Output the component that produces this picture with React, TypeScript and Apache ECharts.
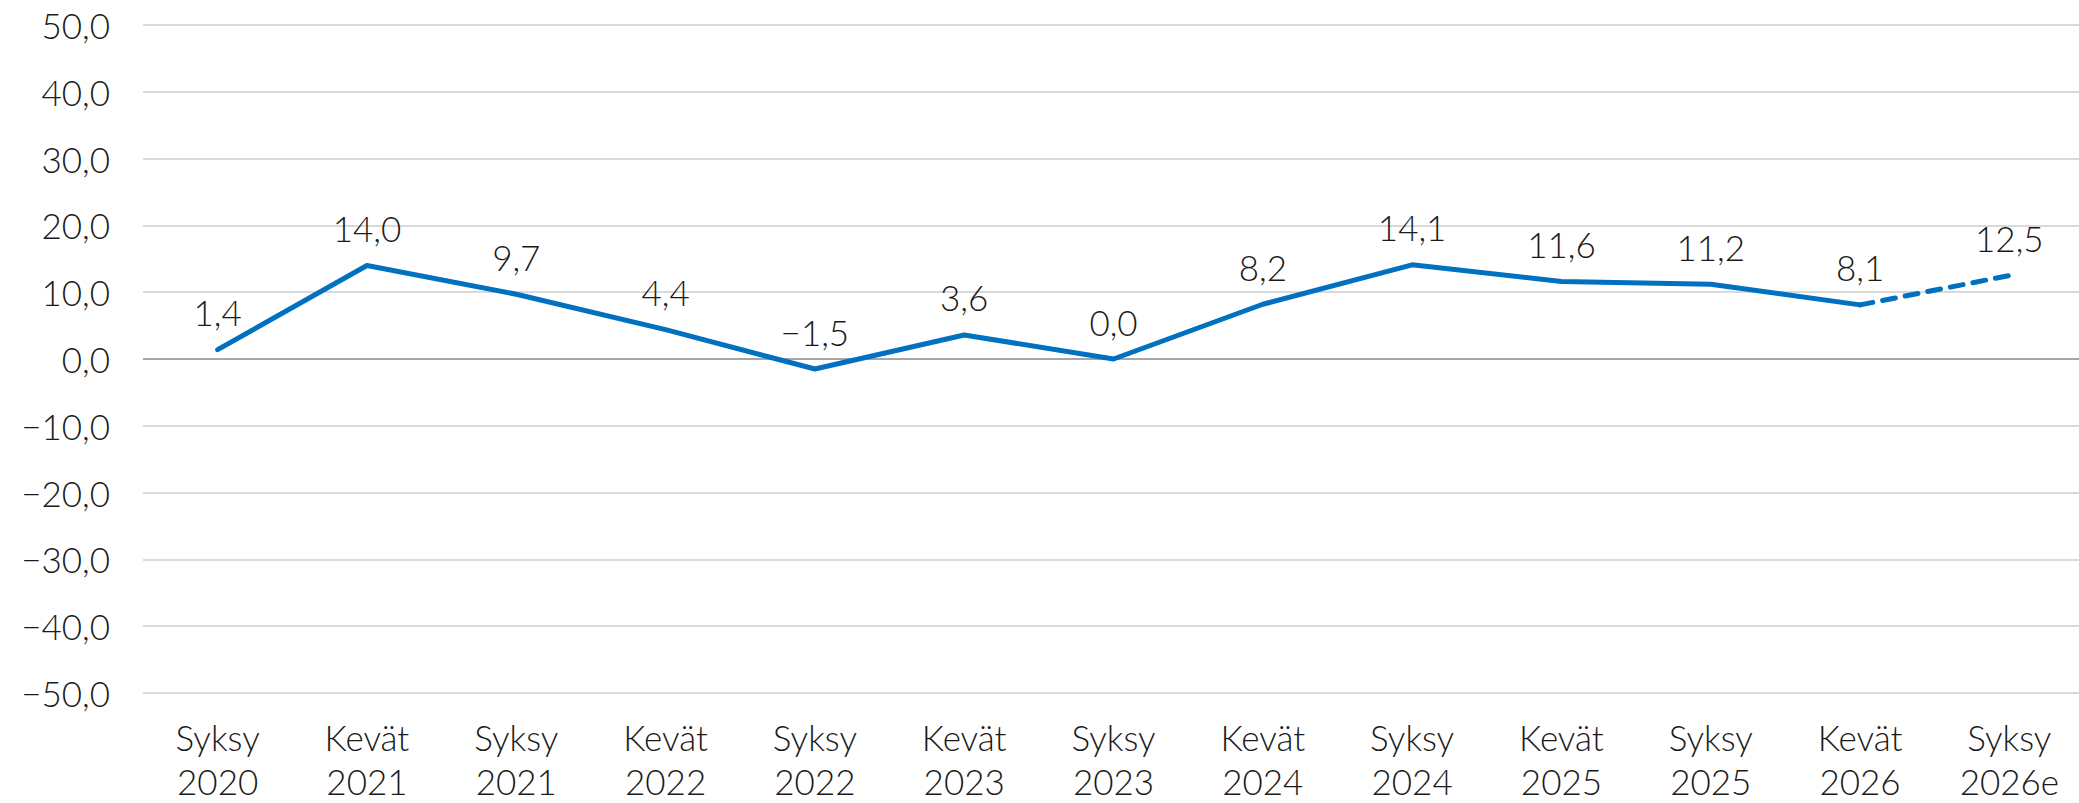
import React, { useEffect, useRef } from "react";
import * as echarts from "echarts";

const categories = [
  "Syksy\n2020", "Kevät\n2021", "Syksy\n2021", "Kevät\n2022", "Syksy\n2022",
  "Kevät\n2023", "Syksy\n2023", "Kevät\n2024", "Syksy\n2024", "Kevät\n2025",
  "Syksy\n2025", "Kevät\n2026", "Syksy\n2026e",
];
const actualValues: (number | null)[] = [1.4, 14.0, 9.7, 4.4, -1.5, 3.6, 0.0, 8.2, 14.1, 11.6, 11.2, 8.1, null];
const forecastValues: (number | null)[] = [null, null, null, null, null, null, null, null, null, null, null, 8.1, 12.5];
const yMin = -50;
const yMax = 50;
const yInterval = 10;

const fmt = (v: number) => {
  const s = Math.abs(v).toFixed(1).replace(".", ",");
  return v < 0 ? "\u2212" + s : s;
};

const FONT = "Lato";
const WEIGHT = 300;
const FS = 35;

export default function App() {
  const ref = useRef<HTMLDivElement>(null);
  useEffect(() => {
    if (!ref.current) return;
    const chart = echarts.init(ref.current, null, { renderer: "svg" });
    const labelStyle = {
      show: true,
      position: "top",
      distance: 19,
      color: "#1a1a1a",
      fontSize: FS,
      fontFamily: FONT,
      fontWeight: WEIGHT,
    };
    chart.setOption({
      animation: false,
      textStyle: { fontFamily: FONT, fontWeight: WEIGHT },
      grid: { left: 143, right: 0, top: 25, bottom: 105, containLabel: false },
      xAxis: {
        type: "category",
        data: categories,
        boundaryGap: true,
        axisLine: { show: false },
        axisTick: { show: false },
        axisLabel: {
          color: "#1a1a1a",
          fontSize: FS,
          fontFamily: FONT,
          fontWeight: WEIGHT,
          lineHeight: 44,
          margin: 22,
          interval: 0,
        },
      },
      yAxis: {
        type: "value",
        min: yMin,
        max: yMax,
        interval: yInterval,
        axisLine: { show: false },
        axisTick: { show: false },
        axisLabel: {
          color: "#1a1a1a",
          fontSize: FS,
          fontFamily: FONT,
          fontWeight: WEIGHT,
          margin: 33,
          formatter: (v: number) => fmt(v),
        },
        splitLine: { lineStyle: { color: "#d9d9d9", width: 2 } },
      },
      series: [
        {
          type: "line",
          data: actualValues,
          symbol: "circle",
          symbolSize: 2,
          showSymbol: true,
          itemStyle: { color: "#0070C0" },
          lineStyle: { color: "#0070C0", width: 5, cap: "round", join: "round" },
          label: { ...labelStyle, formatter: (p: any) => fmt(p.value) },
          labelLayout: { hideOverlap: false },
          markLine: {
            silent: true,
            symbol: "none",
            label: { show: false },
            lineStyle: { color: "#a6a6a6", width: 2, type: "solid" },
            data: [{ yAxis: 0 }],
            z: 1,
          },
          z: 3,
        },
        {
          type: "line",
          data: forecastValues,
          symbol: "circle",
          symbolSize: 2,
          showSymbol: true,
          itemStyle: { color: "#0070C0" },
          lineStyle: { color: "#0070C0", width: 5, type: [13, 10], cap: "round" },
          label: {
            ...labelStyle,
            formatter: (p: any) => (p.dataIndex === categories.length - 1 ? fmt(p.value) : ""),
          },
          z: 3,
        },
      ],
    });
    return () => chart.dispose();
  }, []);
  return (
    <div style={{ position: "fixed", left: 0, top: 0, width: 2079, height: 803, overflow: "hidden", background: "#fff" }}>
      <div ref={ref} style={{ width: 2084, height: 803 }} />
    </div>
  );
}
